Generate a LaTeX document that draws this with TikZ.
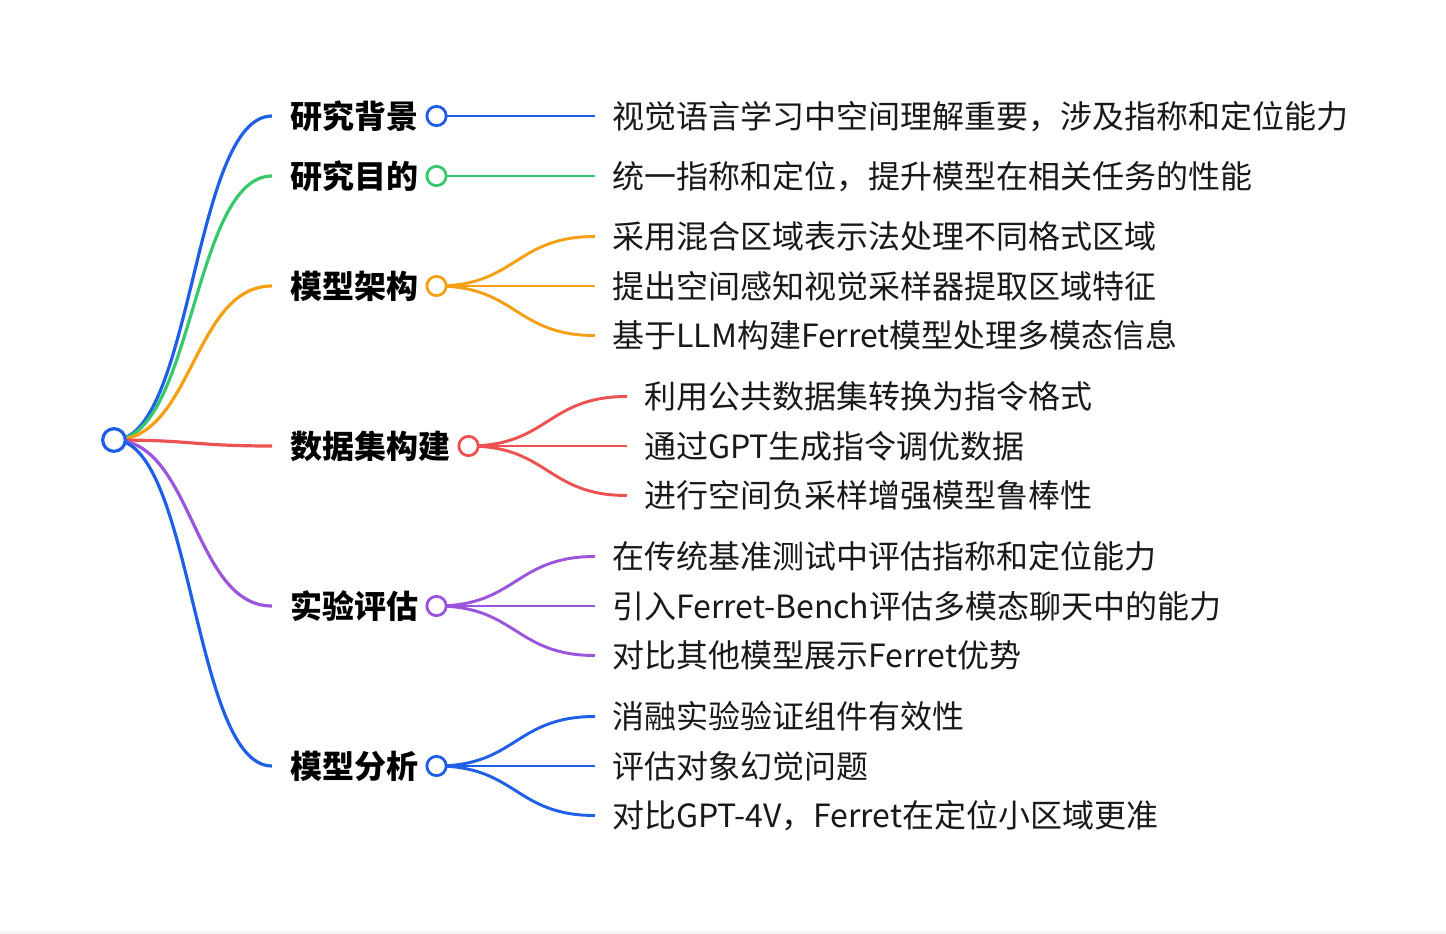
\documentclass[tikz,border=0pt]{standalone}
\usepackage{fontspec}
\setmainfont{Noto Sans CJK SC}
\usetikzlibrary{backgrounds}
\definecolor{cblue}{RGB}{30,95,230}
\definecolor{cgreen}{RGB}{55,200,110}
\definecolor{corange}{RGB}{245,160,20}
\definecolor{cred}{RGB}{236,82,82}
\definecolor{cpurple}{RGB}{155,85,220}
\definecolor{ctext}{RGB}{25,25,25}
\begin{document}
\begin{tikzpicture}[x=0.75pt,y=-0.75pt,
  btext/.style={font=\bfseries\fontsize{24pt}{28pt}\selectfont, text=black, inner xsep=13.5pt, inner ysep=0pt, text height=21.1pt, text depth=2.9pt, anchor=west},
  ltext/.style={font=\fontsize{24pt}{28pt}\selectfont, text=ctext, inner xsep=12.75pt, inner ysep=0pt, text height=21.1pt, text depth=2.9pt, anchor=west},
  bcirc/.style={circle, draw=#1, fill=white, line width=2.1pt, minimum size=14.5pt, inner sep=0pt},
  rootcirc/.style={circle, draw=cblue, fill=white, line width=2.4pt, minimum size=17pt, inner sep=0pt},
  rlink/.style={draw=#1, line width=2.4pt},
  clink/.style={draw=#1, line width=2.2pt}
]
\useasboundingbox (0,0) rectangle (1446,934);
\fill[black!4] (0,931) rectangle (1446,934);

% root
\node[rootcirc] (root) at (114,440) {};

% branch 1
\node[btext] (t1) at (272,116) {研究背景};
\node[bcirc=cblue] (c1) at (t1.east) {};
\node[ltext] (l11) at (595,116) {视觉语言学习中空间理解重要，涉及指称和定位能力};

% branch 2
\node[btext] (t2) at (272,176) {研究目的};
\node[bcirc=cgreen] (c2) at (t2.east) {};
\node[ltext] (l21) at (595,176) {统一指称和定位，提升模型在相关任务的性能};

% branch 3
\node[btext] (t3) at (272,286) {模型架构};
\node[bcirc=corange] (c3) at (t3.east) {};
\node[ltext] (l31) at (595,236.5) {采用混合区域表示法处理不同格式区域};
\node[ltext] (l32) at (595,286) {提出空间感知视觉采样器提取区域特征};
\node[ltext] (l33) at (595,335.5) {基于LLM构建Ferret模型处理多模态信息};

% branch 4
\node[btext] (t4) at (272,446) {数据集构建};
\node[bcirc=cred] (c4) at (t4.east) {};
\node[ltext] (l41) at (627,396.5) {利用公共数据集转换为指令格式};
\node[ltext] (l42) at (627,446) {通过GPT生成指令调优数据};
\node[ltext] (l43) at (627,495.5) {进行空间负采样增强模型鲁棒性};

% branch 5
\node[btext] (t5) at (272,606) {实验评估};
\node[bcirc=cpurple] (c5) at (t5.east) {};
\node[ltext] (l51) at (595,556.5) {在传统基准测试中评估指称和定位能力};
\node[ltext] (l52) at (595,606) {引入Ferret-Bench评估多模态聊天中的能力};
\node[ltext] (l53) at (595,655.5) {对比其他模型展示Ferret优势};

% branch 6
\node[btext] (t6) at (272,766) {模型分析};
\node[bcirc=cblue] (c6) at (t6.east) {};
\node[ltext] (l61) at (595,716.5) {消融实验验证组件有效性};
\node[ltext] (l62) at (595,766) {评估对象幻觉问题};
\node[ltext] (l63) at (595,815.5) {对比GPT-4V，Ferret在定位小区域更准};

\begin{pgfonlayer}{background}
  % root links
  \draw[rlink=cblue]   (root.center) .. controls +(79,0) and +(-79,0) .. (t1.west);
  \draw[rlink=cgreen]  (root.center) .. controls +(79,0) and +(-79,0) .. (t2.west);
  \draw[rlink=corange] (root.center) .. controls +(79,0) and +(-79,0) .. (t3.west);
  \draw[rlink=cred]    (root.center) .. controls +(79,0) and +(-79,0) .. (t4.west);
  \draw[rlink=cpurple] (root.center) .. controls +(79,0) and +(-79,0) .. (t5.west);
  \draw[rlink=cblue]   (root.center) .. controls +(79,0) and +(-79,0) .. (t6.west);
  % child links
  \draw[clink=cblue]   (c1.center) -- (l11.west);
  \draw[clink=cgreen]  (c2.center) -- (l21.west);
  \draw[clink=corange] (c3.center) .. controls +(80,0) and +(-80,0) .. (l31.west);
  \draw[clink=corange] (c3.center) .. controls +(80,0) and +(-80,0) .. (l32.west);
  \draw[clink=corange] (c3.center) .. controls +(80,0) and +(-80,0) .. (l33.west);
  \draw[clink=cred]    (c4.center) .. controls +(80,0) and +(-80,0) .. (l41.west);
  \draw[clink=cred]    (c4.center) .. controls +(80,0) and +(-80,0) .. (l42.west);
  \draw[clink=cred]    (c4.center) .. controls +(80,0) and +(-80,0) .. (l43.west);
  \draw[clink=cpurple] (c5.center) .. controls +(80,0) and +(-80,0) .. (l51.west);
  \draw[clink=cpurple] (c5.center) .. controls +(80,0) and +(-80,0) .. (l52.west);
  \draw[clink=cpurple] (c5.center) .. controls +(80,0) and +(-80,0) .. (l53.west);
  \draw[clink=cblue]   (c6.center) .. controls +(80,0) and +(-80,0) .. (l61.west);
  \draw[clink=cblue]   (c6.center) .. controls +(80,0) and +(-80,0) .. (l62.west);
  \draw[clink=cblue]   (c6.center) .. controls +(80,0) and +(-80,0) .. (l63.west);
\end{pgfonlayer}
\end{tikzpicture}
\end{document}
